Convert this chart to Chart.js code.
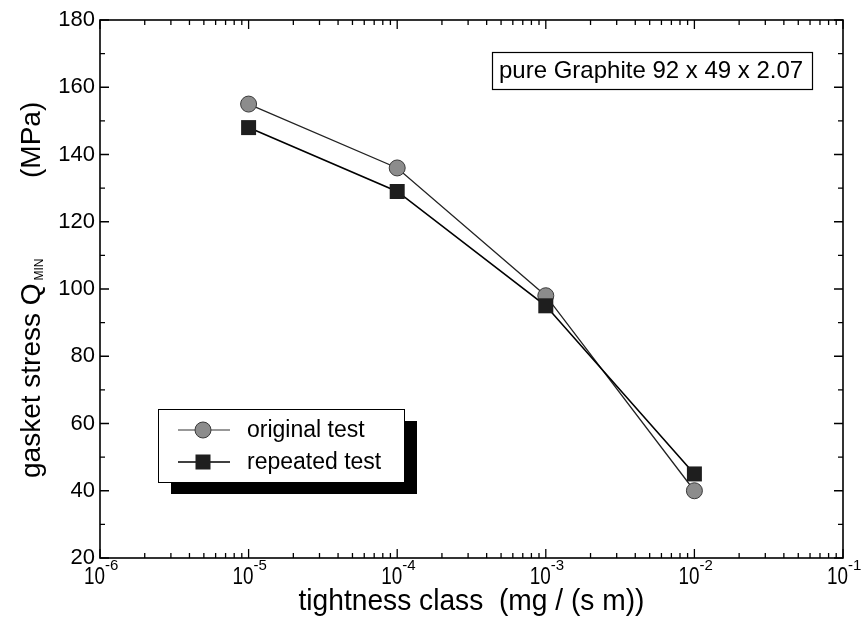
<!DOCTYPE html>
<html><head><meta charset="utf-8">
<script src="https://cdn.jsdelivr.net/npm/chart.js@4"></script>
<style>html,body{margin:0;padding:0;background:#fff}#wrap{width:861px;height:624px;position:relative}</style>
</head><body><div id="wrap"><canvas id="c" width="861" height="624"></canvas></div>
<script>
// ---- data ----
const tightness = [1e-5, 1e-4, 1e-3, 1e-2];
const originalTest = [155, 136, 98, 40];
const repeatedTest = [148, 129, 95, 45];
const xTickExponents = [-6, -5, -4, -3, -2, -1];
const yTickValues = [20, 40, 60, 80, 100, 120, 140, 160, 180];
const seriesNames = ['original test', 'repeated test'];
const xTitle = 'tightness class  (mg / (s m))';
const yTitleMain = 'gasket stress Q';
const yTitleSub = 'MIN';
const yTitleUnit = '(MPa)';
const annotationText = 'pure Graphite 92 x 49 x 2.07';

const FONT = "'Liberation Sans', Arial, sans-serif";
const circleFill = '#8c8c8c', circleEdge = '#3a3a3a', squareFill = '#1e1e1e';

const toPts = (ys) => tightness.map((x, i) => ({x, y: ys[i]}));

function drawMarker(ctx, kind, x, y) {
  ctx.save();
  if (kind === 0) {
    ctx.beginPath(); ctx.arc(x, y, 8, 0, Math.PI * 2);
    ctx.fillStyle = circleFill; ctx.fill();
    ctx.lineWidth = 1; ctx.strokeStyle = circleEdge; ctx.stroke();
  } else {
    ctx.fillStyle = squareFill; ctx.fillRect(x - 7.5, y - 7.5, 15, 15);
  }
  ctx.restore();
}

const framePlugin = {
  id: 'frame',
  beforeDatasetsDraw(chart) {
    const {ctx, chartArea: a, scales: {x: xs, y: ys}} = chart;
    ctx.save();
    ctx.strokeStyle = '#000'; ctx.lineWidth = 1.6;
    ctx.strokeRect(a.left, a.top, a.right - a.left, a.bottom - a.top);
    ctx.lineWidth = 1.3;
    ctx.beginPath();
    for (const d of xTickExponents) {
      const px = xs.getPixelForValue(Math.pow(10, d));
      ctx.moveTo(px, a.bottom); ctx.lineTo(px, a.bottom - 9);
      ctx.moveTo(px, a.top); ctx.lineTo(px, a.top + 9);
      if (d < xTickExponents[xTickExponents.length - 1]) {
        for (let m = 2; m <= 9; m++) {
          const mx = xs.getPixelForValue(m * Math.pow(10, d));
          ctx.moveTo(mx, a.bottom); ctx.lineTo(mx, a.bottom - 5);
          ctx.moveTo(mx, a.top); ctx.lineTo(mx, a.top + 5);
        }
      }
    }
    for (let v = 20; v <= 180; v += 10) {
      const py = ys.getPixelForValue(v);
      const len = (v % 20 === 0) ? 9 : 5;
      ctx.moveTo(a.left, py); ctx.lineTo(a.left + len, py);
      ctx.moveTo(a.right, py); ctx.lineTo(a.right - len, py);
    }
    ctx.stroke();

    // y tick labels
    ctx.fillStyle = '#000';
    ctx.font = `22px ${FONT}`;
    ctx.textAlign = 'right'; ctx.textBaseline = 'middle';
    for (const v of yTickValues) ctx.fillText(String(v), a.left - 5, ys.getPixelForValue(v));

    // x tick labels 10^d
    ctx.textAlign = 'left'; ctx.textBaseline = 'alphabetic';
    for (const d of xTickExponents) {
      const px = xs.getPixelForValue(Math.pow(10, d));
      ctx.font = `24px ${FONT}`;
      ctx.fillText('10', px - 16, a.bottom + 26, 21);
      ctx.font = `15px ${FONT}`;
      ctx.fillText(String(d), px + 5, a.bottom + 12);
    }

    // x title
    ctx.font = `30px ${FONT}`;
    ctx.textAlign = 'center';
    ctx.fillText(xTitle, (a.left + a.right) / 2, a.bottom + 52, 346);

    // y title
    ctx.save();
    ctx.translate(40, 478);
    ctx.rotate(-Math.PI / 2);
    ctx.textAlign = 'left';
    ctx.font = `28px ${FONT}`;
    ctx.fillText(yTitleMain, 0, 0);
    const w1 = ctx.measureText(yTitleMain).width;
    ctx.font = `12px ${FONT}`;
    ctx.fillText(yTitleSub, w1 + 3, 3);
    ctx.font = `28px ${FONT}`;
    ctx.fillText(yTitleUnit, 300, 0);
    ctx.restore();
    ctx.restore();
  },
  afterDraw(chart) {
    const {ctx} = chart;
    ctx.save();
    ctx.fillStyle = '#000';
    ctx.fillRect(171, 421, 246, 73);
    ctx.fillStyle = '#fff';
    ctx.fillRect(158, 409, 246, 73);
    ctx.strokeStyle = '#000'; ctx.lineWidth = 1;
    ctx.strokeRect(158.5, 409.5, 246, 73);
    const rows = [430, 462];
    seriesNames.forEach((name, i) => {
      const y = rows[i];
      ctx.beginPath(); ctx.moveTo(178, y); ctx.lineTo(230, y);
      ctx.strokeStyle = i === 0 ? '#333' : '#000';
      ctx.lineWidth = i === 0 ? 1.2 : 1.6; ctx.stroke();
      drawMarker(ctx, i, 203, y);
      ctx.fillStyle = '#000';
      ctx.font = `23px ${FONT}`;
      ctx.textAlign = 'left'; ctx.textBaseline = 'middle';
      ctx.fillText(name, 247, y + 1);
    });
    ctx.strokeStyle = '#000'; ctx.lineWidth = 1.2;
    ctx.strokeRect(492.5, 52.5, 320, 37);
    ctx.fillStyle = '#000';
    ctx.font = `24px ${FONT}`;
    ctx.textAlign = 'left'; ctx.textBaseline = 'middle';
    ctx.fillText(annotationText, 499, 71.5);
    ctx.restore();
  }
};

new Chart(document.getElementById('c'), {
  type: 'line',
  data: {
    datasets: [
      {
        label: seriesNames[1], data: toPts(repeatedTest), order: 0,
        borderColor: '#000', borderWidth: 1.6,
        pointStyle: 'rect', pointRadius: 10.6, pointHoverRadius: 10.6,
        pointBackgroundColor: squareFill, pointBorderColor: squareFill, pointBorderWidth: 0
      },
      {
        label: seriesNames[0], data: toPts(originalTest), order: 1,
        borderColor: '#222', borderWidth: 1.3,
        pointStyle: 'circle', pointRadius: 8, pointHoverRadius: 8,
        pointBackgroundColor: circleFill, pointBorderColor: circleEdge, pointBorderWidth: 1
      }
    ]
  },
  options: {
    responsive: false, animation: false,
    layout: {padding: {left: 100, top: 20, right: 18, bottom: 66}},
    plugins: {legend: {display: false}, tooltip: {enabled: false}},
    scales: {
      x: {type: 'logarithmic', min: 1e-6, max: 1e-1, display: false},
      y: {type: 'linear', min: 20, max: 180, display: false}
    }
  },
  plugins: [framePlugin]
});
</script>
</body></html>
